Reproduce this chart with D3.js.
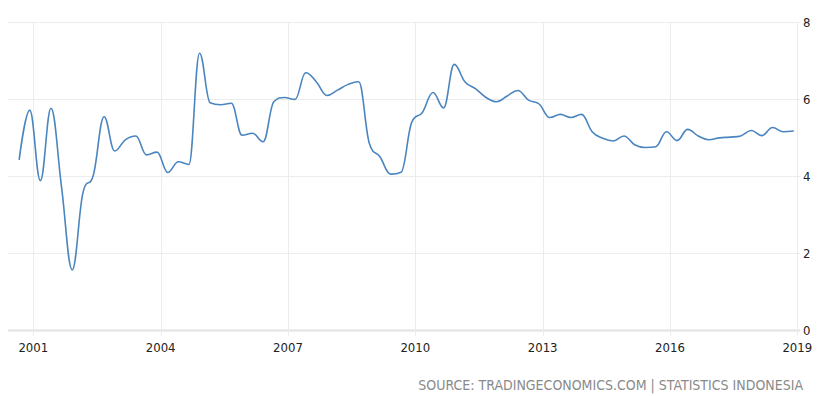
<!DOCTYPE html>
<html>
<head>
<meta charset="utf-8">
<script src="https://cdn.jsdelivr.net/npm/d3@7"></script>
<style>
  html, body { margin: 0; padding: 0; background: #ffffff; }
  svg { display: block; }
  text { font-family: 'DejaVu Sans', 'Liberation Sans', sans-serif; font-stretch: condensed; }
</style>
</head>
<body>
<svg id="chart" width="827" height="396"></svg>
<script>
// ---- data (Indonesia GDP annual growth rate, quarterly, %) ----
const quarters = [
  "2000Q3","2000Q4",
  "2001Q1","2001Q2","2001Q3","2001Q4",
  "2002Q1","2002Q2","2002Q3","2002Q4",
  "2003Q1","2003Q2","2003Q3","2003Q4",
  "2004Q1","2004Q2","2004Q3","2004Q4",
  "2005Q1","2005Q2","2005Q3","2005Q4",
  "2006Q1","2006Q2","2006Q3","2006Q4",
  "2007Q1","2007Q2","2007Q3","2007Q4",
  "2008Q1","2008Q2","2008Q3","2008Q4",
  "2009Q1","2009Q2","2009Q3","2009Q4",
  "2010Q1","2010Q2","2010Q3","2010Q4",
  "2011Q1","2011Q2","2011Q3","2011Q4",
  "2012Q1","2012Q2","2012Q3","2012Q4",
  "2013Q1","2013Q2","2013Q3","2013Q4",
  "2014Q1","2014Q2","2014Q3","2014Q4",
  "2015Q1","2015Q2","2015Q3","2015Q4",
  "2016Q1","2016Q2","2016Q3","2016Q4",
  "2017Q1","2017Q2","2017Q3","2017Q4",
  "2018Q1","2018Q2","2018Q3","2018Q4"
];
const growth = [
  4.42, 5.71,
  3.88, 5.76, 3.70, 1.56,
  3.55, 4.03, 5.54, 4.65,
  4.94, 5.04, 4.55, 4.62,
  4.09, 4.37, 4.30, 7.19,
  5.90, 5.85, 5.89, 5.06,
  5.11, 4.89, 5.93, 6.04,
  5.99, 6.68, 6.45, 6.09,
  6.23, 6.38, 6.45, 4.85,
  4.50, 4.05, 4.10, 5.40,
  5.65, 6.17, 5.77, 6.90,
  6.45, 6.27, 6.04, 5.93,
  6.08, 6.22, 5.97, 5.87,
  5.52, 5.60, 5.52, 5.60,
  5.15, 4.98, 4.91, 5.04,
  4.81, 4.74, 4.76, 5.15,
  4.92, 5.21, 5.04, 4.94,
  4.99, 5.01, 5.04, 5.18,
  5.05, 5.26, 5.15, 5.17
];
const xTickYears = [2001, 2004, 2007, 2010, 2013, 2016, 2019];
const yTicks = [0, 2, 4, 6, 8];
const sourceText = "SOURCE: TRADINGECONOMICS.COM | STATISTICS INDONESIA";

// ---- layout ----
const svg = d3.select("#chart");
const plotLeft = 8, plotRight = 797.3, plotTop = 22, plotBottom = 330;

const toYear = q => +q.slice(0, 4) + (3 * +q.slice(5) - 1) / 12;
const x = d3.scaleLinear().domain([2001, 2019]).range([33.3, plotRight]);
const y = d3.scaleLinear().domain([0, 8]).range([plotBottom, plotTop]);

// Highcharts-like spline curve
function hcSpline(context) {
  return {
    areaStart() {}, areaEnd() {},
    lineStart() { this._p = []; },
    point(px, py) { this._p.push([+px, +py]); },
    lineEnd() {
      const p = this._p, n = p.length;
      if (!n) return;
      const sm = 1.5, den = 2.5;
      const L = [], R = [];
      for (let i = 0; i < n; i++) {
        const [cx, cy] = p[i];
        if (i === 0 || i === n - 1) { L[i] = [cx, cy]; R[i] = [cx, cy]; continue; }
        const [ax, ay] = p[i - 1], [bx, by] = p[i + 1];
        let lx = (sm * cx + ax) / den, ly = (sm * cy + ay) / den;
        let rx = (sm * cx + bx) / den, ry = (sm * cy + by) / den;
        if (rx !== lx) {
          const corr = ((ry - ly) * (rx - cx)) / (rx - lx) + cy - ry;
          ly += corr; ry += corr;
        }
        if (ly > ay && ly > cy) { ly = Math.max(ay, cy); ry = 2 * cy - ly; }
        else if (ly < ay && ly < cy) { ly = Math.min(ay, cy); ry = 2 * cy - ly; }
        if (ry > by && ry > cy) { ry = Math.max(by, cy); ly = 2 * cy - ry; }
        else if (ry < by && ry < cy) { ry = Math.min(by, cy); ly = 2 * cy - ry; }
        L[i] = [lx, ly]; R[i] = [rx, ry];
      }
      context.moveTo(p[0][0], p[0][1]);
      for (let i = 1; i < n; i++) {
        context.bezierCurveTo(R[i - 1][0], R[i - 1][1], L[i][0], L[i][1], p[i][0], p[i][1]);
      }
    }
  };
}

// grid: horizontal
svg.append("g").selectAll("line").data(yTicks).join("line")
  .attr("x1", plotLeft).attr("x2", plotRight + 3)
  .attr("y1", d => Math.round(y(d)) + 0.5).attr("y2", d => Math.round(y(d)) + 0.5)
  .attr("stroke", d => d === 0 ? "#e2e2e2" : "#ececec")
  .attr("stroke-width", d => d === 0 ? 2 : 1);

// grid: vertical
svg.append("g").selectAll("line").data(xTickYears).join("line")
  .attr("x1", d => Math.round(x(d)) + 0.5).attr("x2", d => Math.round(x(d)) + 0.5)
  .attr("y1", plotTop).attr("y2", plotBottom + 6)
  .attr("stroke", "#ececec").attr("stroke-width", 1);

// line
const line = d3.line()
  .x((d, i) => x(toYear(quarters[i])))
  .y(d => y(d))
  .curve(hcSpline);

svg.append("path")
  .datum(growth)
  .attr("d", line)
  .attr("fill", "none")
  .attr("stroke", "#4a85bf")
  .attr("stroke-width", 1.6)
  .attr("stroke-linejoin", "round");

// x labels
svg.append("g").selectAll("text").data(xTickYears).join("text")
  .attr("x", d => x(d))
  .attr("y", 352)
  .attr("text-anchor", "middle")
  .attr("font-size", 13)
  .attr("fill", "#222")
  .text(d => d);

// y labels
svg.append("g").selectAll("text").data(yTicks).join("text")
  .attr("x", 803)
  .attr("y", d => y(d) + 5)
  .attr("text-anchor", "start")
  .attr("font-size", 13)
  .attr("fill", "#222")
  .text(d => d);

// source
svg.append("text")
  .attr("x", 803)
  .attr("y", 390)
  .attr("text-anchor", "end")
  .attr("font-size", 14)
  .attr("fill", "#8a8a8a")
  .text(sourceText);
</script>
</body>
</html>
